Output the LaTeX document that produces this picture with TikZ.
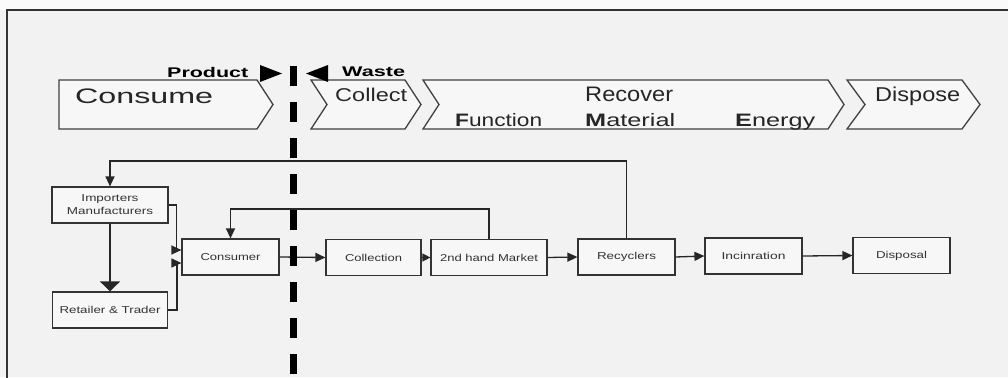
\documentclass[tikz,border=0pt]{standalone}
\usepackage{fontspec}
\setmainfont{Liberation Sans}
\usepackage{graphicx}
\usetikzlibrary{arrows.meta,calc}
% stretch a label to a given width (in pt), keeping its height
\newcommand\fitw[2]{\resizebox{#1pt}{\height}{#2}}

\begin{document}
\begin{tikzpicture}[x=1pt,y=-1pt,
  chev/.style={draw=black!75, line width=1.3pt, fill=white!97!black, line join=miter},
  lbl/.style={inner sep=0pt, anchor=base west, text=black!85},
  box/.style={draw=black!80, line width=1.2pt, fill=white!97!black, minimum height=36pt,
    inner sep=0pt, font=\fontsize{10}{13}\selectfont, text=black!80, align=center},
  link/.style={draw=black!85, line width=1.3pt, -{Triangle[length=10pt,width=9pt]}},
  bigtip/.style={draw=black!85, line width=1.3pt, -{Triangle[length=10pt,width=20pt]}},
  divider/.style={black, line width=7pt, dash pattern=on 20pt off 16pt}
]
\useasboundingbox (0,0) rectangle (1008,377);
\fill[white!95!black] (0,0) rectangle (1008,377);
\fill[white!98!black] (0,0) rectangle (1008,10);

% frame
\draw[black!80, line width=2pt] (7,380) -- (7,10) -- (1010,10);

% stage chevrons
\draw[chev] (59,80) -- (257,80) -- (273,104.5) -- (257,129) -- (59,129) -- cycle;
\draw[chev] (311,80) -- (405,80) -- (421,104.5) -- (405,129) -- (311,129) -- (327,104.5) -- cycle;
\draw[chev] (423,80) -- (828,80) -- (844,104.5) -- (828,129) -- (423,129) -- (439,104.5) -- cycle;
\draw[chev] (847,80) -- (962,80) -- (980,104.5) -- (962,129) -- (847,129) -- (865,104.5) -- cycle;

\node[lbl, font=\fontsize{21}{21}\selectfont] (tconsume) at (75,103) {\fitw{138}{Consume}};
\node[lbl, font=\fontsize{18.5}{19}\selectfont] (tcollect) at (335,102) {\fitw{72}{Collect}};
\node[lbl, font=\fontsize{21}{21}\selectfont] (trecover) at (585,102) {\fitw{88}{Recover}};
\node[lbl, font=\fontsize{18}{18}\selectfont] (tfunction) at (455,126) {\fitw{87}{\textbf{F}unction}};
\node[lbl, font=\fontsize{18}{18}\selectfont] (tmaterial) at (585,126) {\fitw{90}{\textbf{M}aterial}};
\node[lbl, font=\fontsize{18}{18}\selectfont] (tenergy) at (735,126) {\fitw{80}{\textbf{E}nergy}};
\node[lbl, font=\fontsize{20}{20}\selectfont] (tdispose) at (875,102) {\fitw{85}{Dispose}};

% product / waste markers
\node[lbl, font=\bfseries\fontsize{14}{14}\selectfont, text=black] (tproduct) at (167,78) {\fitw{81}{Product}};
\node[lbl, font=\bfseries\fontsize{14}{14}\selectfont, text=black] (twaste) at (342,77) {\fitw{63}{Waste}};
\fill[black] (260,65) -- (282,73.5) -- (260,82) -- cycle;
\fill[black] (328,65) -- (306,73.5) -- (328,82) -- cycle;

% flow boxes
\node[box, minimum width=116pt] (imp) at (110,205) {\fitw{57}{Importers}\\\fitw{86}{Manufacturers}};
\node[box, minimum width=115pt] (ret) at (110,310) {\fitw{101}{Retailer \& Trader}};
\node[box, minimum width=97pt] (cons) at (230.5,257) {\fitw{60}{Consumer}};
\node[box, minimum width=95pt] (coll) at (373.5,257.5) {\fitw{57}{Collection}};
\node[box, minimum width=116pt] (mkt) at (489,257.5) {\fitw{98}{2nd hand Market}};
\node[box, minimum width=97pt] (rec) at (626.5,257) {\fitw{59}{Recyclers}};
\node[box, minimum width=97pt] (inc) at (753.5,256) {\fitw{64}{Incinration}};
\node[box, minimum width=97pt] (disp) at (901.5,255.5) {\fitw{51}{Disposal}};

% loop levels
\coordinate (fb) at (0,161);
\coordinate (lp) at (0,209);

% connectors
\draw[bigtip] (imp.south) -- (imp.south |- ret.north);
\draw[link] (imp.east) -- ++(8,0) |- ($(cons.west)+(0,-7)$);
\draw[link] (ret.east) -- ++(9,0) |- ($(cons.west)+(0,6)$);
\draw[link] (cons.east) -- (coll.west);
\draw[link, -{Triangle[length=8pt,width=8pt]}] (coll.east) -- (mkt.west);
\draw[link] (mkt.east) -- (rec.west);
\draw[link] (rec.east) -- (inc.west);
\draw[link] (inc.east) -- (disp.west);
\draw[link] (rec.north) -- (rec.north |- fb) -| (imp.north);
\draw[link] (mkt.north) -- (mkt.north |- lp) -| (cons.north);

% product / waste divider
\draw[divider] (293,66) -- (293,380);
\end{tikzpicture}
\end{document}
